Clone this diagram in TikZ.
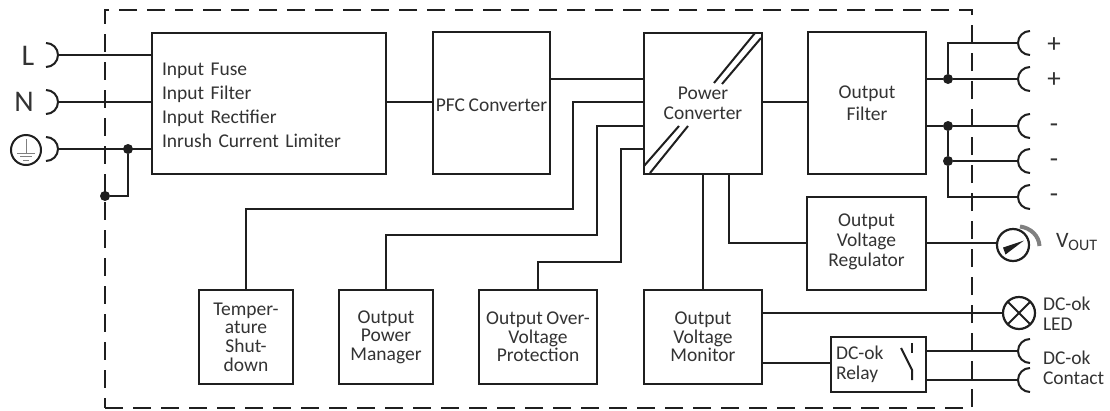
\documentclass[tikz,border=0pt]{standalone}
\usepackage{fontspec}
\setmainfont[WordSpace=0.8]{Carlito}
\usetikzlibrary{calc}
\definecolor{ink}{gray}{0.12}
\definecolor{txt}{gray}{0.2}
\newcommand{\plugleft}[1]{\draw[wire] ([xshift=-12pt,yshift=12pt]#1) arc[start angle=90,end angle=-90,radius=12pt];}
\newcommand{\plugright}[1]{\draw[wire] ([xshift=12pt,yshift=12pt]#1) arc[start angle=90,end angle=270,radius=12pt];}
\tikzset{
  wire/.style={draw=ink,line width=2pt},
  blk/.style={draw=ink,line width=2.2pt,rectangle,inner sep=0pt,outer sep=0pt,fill=white,text=txt,align=center,font=\fontsize{19.5}{18.6}\selectfont},
  dotj/.style={circle,fill=ink,inner sep=0pt,outer sep=0pt,minimum size=10pt},
  lab/.style={inner sep=0pt,outer sep=0pt,text=txt,font=\fontsize{19.5}{20}\selectfont},
  big/.style={inner sep=0pt,outer sep=0pt,text=txt,font=\fontsize{30}{30}\selectfont},
  sign/.style={inner sep=0pt,outer sep=0pt,text=txt,font=\fontsize{27}{27}\selectfont},
  lamp/.style={circle,draw=ink,line width=2.2pt,fill=white,inner sep=0pt,outer sep=0pt,minimum size=32pt},
}
\begin{document}
\begin{tikzpicture}[x=1pt,y=-1pt]
\useasboundingbox (0,0) rectangle (1110,410);
\fill[white] (0,0) rectangle (1110,410);
% frame
\node[draw=ink,line width=2.2pt,dash pattern=on 18pt off 10pt,rectangle,inner sep=0pt,outer sep=0pt,minimum width=867pt,minimum height=398pt] (frame) at (538.5,209) {};
% blocks
\node[blk,minimum width=234pt,minimum height=141pt,text width=214pt,align=left,font=\fontsize{19.5}{24}\selectfont,text height=15.5pt] (input) at (269,103.5) {Input Fuse\\Input Filter\\Input Rectifier\\Inrush Current Limiter};
\node[blk,minimum width=117pt,minimum height=142pt,text height=21pt,text depth=5pt] (pfc) at (491.5,103) {PFC Converter};
\node[blk,minimum width=118pt,minimum height=141pt,font=\fontsize{19.5}{20.5}\selectfont] (power) at (703,103.5) {Power\\Converter};
\node[blk,minimum width=118pt,minimum height=142pt,font=\fontsize{19.5}{22}\selectfont] (filter) at (867,103) {Output\\Filter};
\node[blk,minimum width=119pt,minimum height=93pt,text depth=6pt,font=\fontsize{19.5}{20}\selectfont] (reg) at (866.5,243.5) {Output\\Voltage\\Regulator};
\node[blk,minimum width=94pt,minimum height=94pt] (temp) at (246,337) {Temper-\\ature\\Shut-\\down};
\node[blk,minimum width=94pt,minimum height=94pt] (opm) at (386,337) {Output\\Power\\Manager};
\node[blk,minimum width=118pt,minimum height=94pt] (oovp) at (538,337) {Output Over-\\Voltage\\Protection};
\node[blk,minimum width=118pt,minimum height=94pt] (ovm) at (703,337) {Output\\Voltage\\Monitor};
\node[blk,minimum width=95pt,minimum height=55pt,text width=85pt,align=left,font=\fontsize{19.5}{20}\selectfont] (relay) at (878.5,364.5) {DC-ok\\Relay};
% power converter slashes
\draw[wire] (714,83) -- (755,33);
\draw[wire] (722,84) -- (761,38);
\draw[wire] (679,126) -- (644,166);
\draw[wire] (688,126) -- (650,173);
% relay switch
\draw[wire] (912,343) -- (912,353);
\draw[wire] (901,348) -- (912,370) -- (912,380);
% left terminals
\coordinate (tL) at (58,55);
\coordinate (tN) at (58,102);
\coordinate (tE) at (58,149);
\plugleft{tL}\plugleft{tN}\plugleft{tE}
\node[big] (labL) at (28,56) {L};
\node[big] (labN) at (24,102) {N};
\node[circle,draw=ink,line width=2pt,inner sep=0pt,outer sep=0pt,minimum size=30pt] (earth) at (26,150) {};
\draw[gray,line width=1pt] (26,139) -- (26,153);
\draw[gray,line width=1pt] (17,153) -- (35,153);
\draw[gray,line width=1pt] (20,156.5) -- (32,156.5);
\draw[gray,line width=1pt] (23,160) -- (29,160);
\draw[wire] (tL) -- (input.west |- tL);
\draw[wire] (tN) -- (input.west |- tN);
\draw[wire] (tE) -- (input.west |- tE);
\node[dotj] (j1) at (128,149) {};
\node[dotj] (j2) at (105,196) {};
\draw[wire] (j1) |- (j2);
% main chain
\draw[wire] (input.east |- 0,102) -- (pfc.west |- 0,102);
\draw[wire] (pfc.east |- 0,79) -- (power.west |- 0,79);
\draw[wire] (power.east |- 0,102) -- (filter.west |- 0,102);
% control lines
\draw[wire] (power.west |- 0,102) -| (573,209) -| (temp.north);
\draw[wire] (power.west |- 0,126) -| (597,235) -| (opm.north);
\draw[wire] (power.west |- 0,149) -| (621,262) -| (oovp.north);
\draw[wire] (power.south) -- (ovm.north);
\draw[wire] (power.south -| 729,0) |- (reg.west |- 0,243);
% outputs
\coordinate (tP1) at (1018,43);
\coordinate (tP2) at (1018,79);
\coordinate (tM1) at (1018,126);
\coordinate (tM2) at (1018,161);
\coordinate (tM3) at (1018,197);
\plugright{tP1}\plugright{tP2}\plugright{tM1}\plugright{tM2}\plugright{tM3}
\node[dotj] (jp) at (948,79) {};
\node[dotj] (jm1) at (948,126) {};
\node[dotj] (jm2) at (948,161) {};
\draw[wire] (filter.east |- jp) -- (jp) -- (tP2);
\draw[wire] (jp) |- (tP1);
\draw[wire] (filter.east |- jm1) -- (jm1) -- (tM1);
\draw[wire] (jm1) -- (jm2) -- (tM2);
\draw[wire] (jm2) |- (tM3);
\node[sign] (lp1) at (1054,45) {+};
\node[sign] (lp2) at (1054,80) {+};
\node[sign] (lm1) at (1054,128) {-};
\node[sign] (lm2) at (1054,163) {-};
\node[sign] (lm3) at (1054,198) {-};
% meter
\node[lamp] (meter) at (1013,245) {};
\draw[wire] (reg.east |- 0,243) -- (meter.west |- 0,243);
\fill[ink] (1024,240.5) -- (1003,247.5) -- (1005.5,254.5) -- cycle;
\draw[gray,line width=4pt] (1020,226.5) .. controls (1031,228) and (1039,236) .. (1039.5,246);
\node[lab,anchor=west,font=\fontsize{22}{24}\selectfont] (vout) at (1056,242) {V\raisebox{-3pt}{\fontsize{16}{18}\selectfont OUT}};
% LED
\node[lamp] (led) at (1019,313) {};
\draw[wire] (led.45) -- (led.225);
\draw[wire] (led.135) -- (led.315);
\draw[wire] (ovm.east |- led) -- (led.west);
\node[lab,anchor=west,align=left] (ledl) at (1043,314) {DC-ok\\LED};
% relay
\draw[wire] (ovm.east |- 0,363) -- (relay.west |- 0,363);
\coordinate (tR1) at (1018,351);
\coordinate (tR2) at (1018,380);
\plugright{tR1}\plugright{tR2}
\draw[wire] (relay.east |- tR1) -- (tR1);
\draw[wire] (relay.east |- tR2) -- (tR2);
\node[lab,anchor=west,align=left] (rell) at (1043,368) {DC-ok\\Contact};
\end{tikzpicture}
\end{document}
